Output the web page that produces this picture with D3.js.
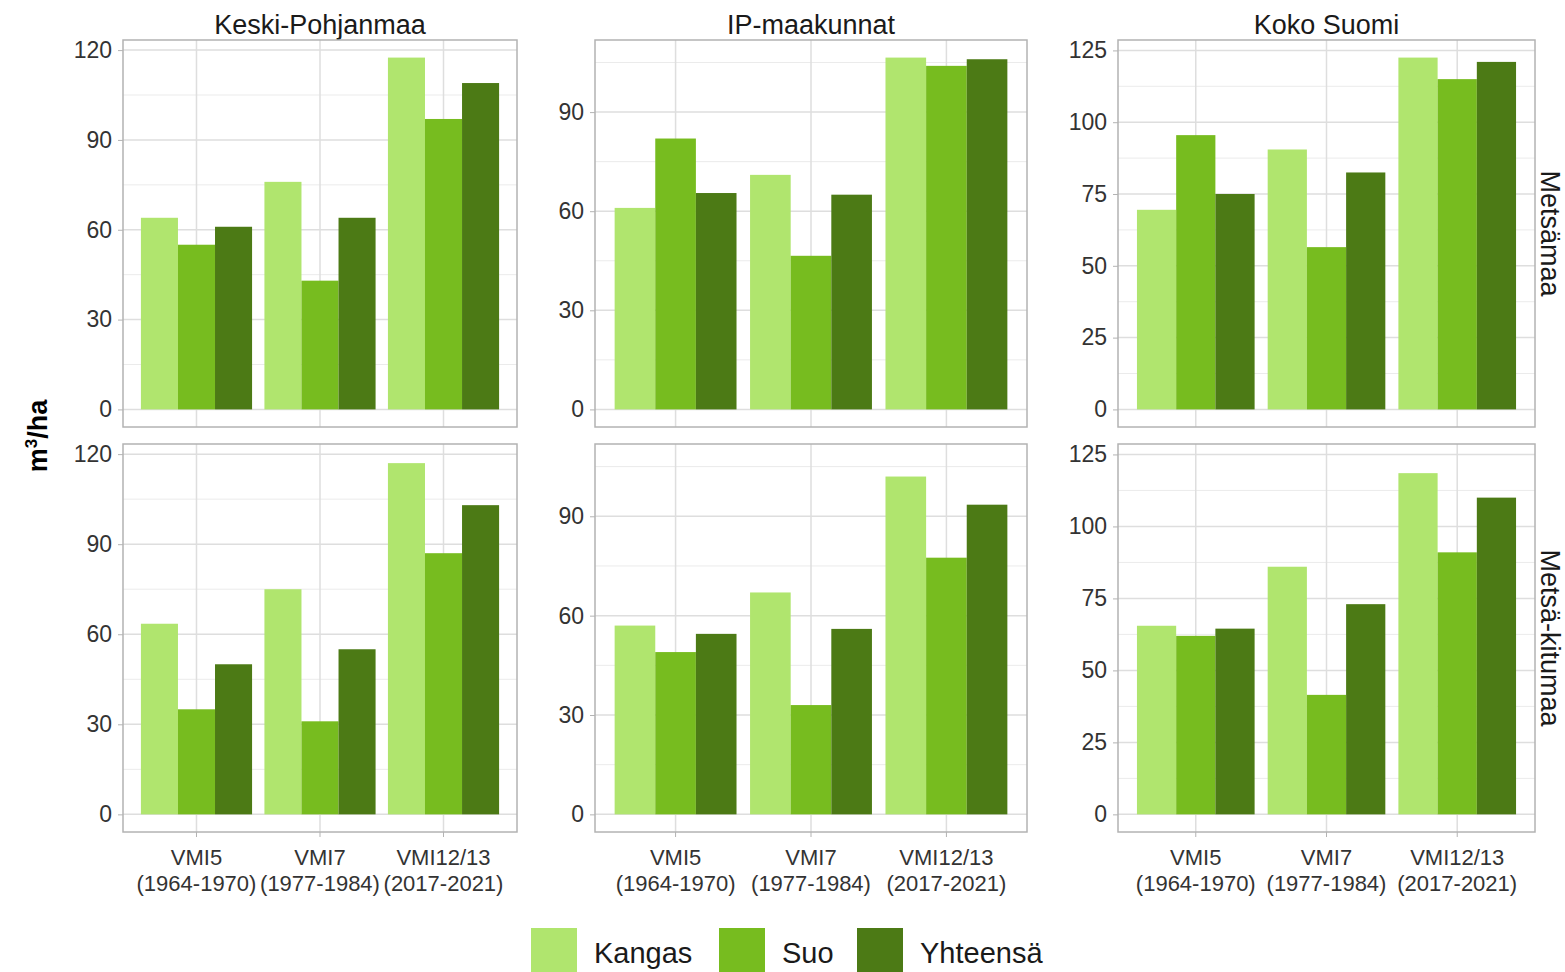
<!DOCTYPE html>
<html><head><meta charset="utf-8">
<script src="https://cdn.jsdelivr.net/npm/d3@7"></script>
<style>body{margin:0;background:#fff}text{font-family:"Liberation Sans",Arial,sans-serif}</style>
</head><body><svg id="c" width="1565" height="972"></svg>
<script>
const regions = ["Keski-Pohjanmaa", "IP-maakunnat", "Koko Suomi"];
const landTypes = ["Metsämaa", "Metsä-kitumaa"];
const periods = ["VMI5", "VMI7", "VMI12/13"];
const periodYears = ["(1964-1970)", "(1977-1984)", "(2017-2021)"];
const soils = ["Kangas", "Suo", "Yhteensä"];
const soilColors = ["#b0e56e", "#77bc1f", "#4c7a15"];
const yTicks = [[0, 30, 60, 90, 120], [0, 30, 60, 90], [0, 25, 50, 75, 100, 125]];
// values[row][col][period] = [Kangas, Suo, Yhteensä]
const metsamaa = [
  [[64, 55, 61], [76, 43, 64], [117.5, 97, 109]],
  [[61, 82, 65.5], [71, 46.5, 65], [106.5, 104, 106]],
  [[69.5, 95.5, 75], [90.5, 56.5, 82.5], [122.5, 115, 121]]
];
const kitumaa = [
  [[63.5, 35, 50], [75, 31, 55], [117, 87, 103]],
  [[57, 49, 54.5], [67, 33, 56], [102, 77.5, 93.5]],
  [[65.5, 62, 64.5], [86, 41.5, 73], [118.5, 91, 110]]
];
const values = [metsamaa, kitumaa];

const svg = d3.select("#c");
const colX = [[123, 517], [595, 1027], [1118, 1535]];
const rowY = [[40, 427], [444, 832]];

regions.forEach((reg, ci) => {
  const colMax = d3.max([metsamaa[ci], kitumaa[ci]].flat(2));
  const y0 = -0.05 * colMax, y1 = 1.05 * colMax;
  svg.append("text").attr("x", (colX[ci][0] + colX[ci][1]) / 2).attr("y", 34)
    .attr("text-anchor", "middle").attr("font-size", 27).attr("fill", "#1a1a1a").text(reg);
  landTypes.forEach((lt, ri) => {
    const [xa, xb] = colX[ci], [ya, yb] = rowY[ri];
    const x = d3.scaleBand().domain(periods).range([xa, xb]).paddingInner(0.1).paddingOuter(0.145);
    const xs = d3.scaleBand().domain(soils).range([0, x.bandwidth()]);
    const y = d3.scaleLinear().domain([y0, y1]).range([yb, ya]);
    const g = svg.append("g");
    const t = yTicks[ci];
    const step = t[1] - t[0];
    const minor = [];
    for (let v = step / 2; v < y1; v += step) minor.push(v);
    g.selectAll(".mi").data(minor).join("line").attr("x1", xa).attr("x2", xb)
      .attr("y1", d => y(d)).attr("y2", d => y(d)).attr("stroke", "#ebebeb").attr("stroke-width", 1);
    g.selectAll(".ma").data(t).join("line").attr("x1", xa).attr("x2", xb)
      .attr("y1", d => y(d)).attr("y2", d => y(d)).attr("stroke", "#dedede").attr("stroke-width", 1.5);
    g.selectAll(".vx").data(periods).join("line")
      .attr("x1", d => x(d) + x.bandwidth() / 2).attr("x2", d => x(d) + x.bandwidth() / 2)
      .attr("y1", ya).attr("y2", yb).attr("stroke", "#dedede").attr("stroke-width", 1.5);
    periods.forEach((p, pi) => {
      g.selectAll(null).data(values[ri][ci][pi]).join("rect")
        .attr("x", (d, i) => x(p) + xs(soils[i])).attr("width", xs.bandwidth())
        .attr("y", d => y(d)).attr("height", d => y(0) - y(d)).attr("fill", (d, i) => soilColors[i]);
    });
    g.append("rect").attr("x", xa).attr("y", ya).attr("width", xb - xa).attr("height", yb - ya)
      .attr("fill", "none").attr("stroke", "#b3b3b3").attr("stroke-width", 1.5);
    const ya_ = g.append("g").attr("transform", `translate(${xa},0)`)
      .call(d3.axisLeft(y).tickValues(t).tickSize(5).tickPadding(6));
    ya_.select(".domain").remove();
    ya_.selectAll("line").attr("stroke", "#b3b3b3");
    ya_.selectAll("text").attr("font-size", 23).attr("fill", "#333").attr("font-family", "Liberation Sans, Arial");
    if (ri === 1) {
      const xa_ = g.append("g").attr("transform", `translate(0,${yb})`)
        .call(d3.axisBottom(x).tickSize(5).tickFormat(""));
      xa_.select(".domain").remove();
      xa_.selectAll("line").attr("stroke", "#b3b3b3");
      periods.forEach((p, pi) => {
        const tx = g.append("text").attr("x", x(p) + x.bandwidth() / 2).attr("y", yb + 33)
          .attr("text-anchor", "middle").attr("font-size", 22).attr("fill", "#333");
        tx.append("tspan").attr("x", x(p) + x.bandwidth() / 2).text(p);
        tx.append("tspan").attr("x", x(p) + x.bandwidth() / 2).attr("dy", 26).text(periodYears[pi]);
      });
    }
    if (ci === 2) {
      svg.append("text").attr("transform", `translate(1541,${(ya + yb) / 2}) rotate(90)`)
        .attr("text-anchor", "middle").attr("font-size", 27).attr("fill", "#1a1a1a").text(lt);
    }
  });
});

const yl = svg.append("text").attr("transform", "translate(47,436) rotate(-90)")
  .attr("text-anchor", "middle").attr("font-size", 27).attr("font-weight", "bold");
yl.append("tspan").text("m");
yl.append("tspan").attr("font-size", 17).attr("dy", -10).text("3");
yl.append("tspan").attr("dy", 10).text("/ha");

const legX = [531, 719, 857];
soils.forEach((s, i) => {
  svg.append("rect").attr("x", legX[i]).attr("y", 928).attr("width", 46).attr("height", 46).attr("fill", soilColors[i]);
  svg.append("text").attr("x", legX[i] + 63).attr("y", 963).attr("font-size", 29).attr("fill", "#1a1a1a").text(s);
});
</script></body></html>
